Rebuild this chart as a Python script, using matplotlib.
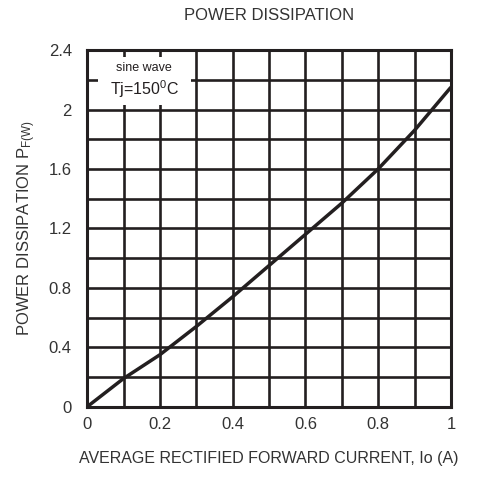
import matplotlib.pyplot as plt
import numpy as np

plt.rcParams['font.family'] = ['Liberation Sans', 'DejaVu Sans']

current = [0, 0.1, 0.2, 0.3, 0.4, 0.5, 0.6, 0.7, 0.8, 0.9, 1.0]
power = [0, 0.19, 0.35, 0.54, 0.74, 0.95, 1.16, 1.37, 1.6, 1.86, 2.15]

xticks = [0, 0.2, 0.4, 0.6, 0.8, 1]
xticklabels = ['0', '0.2', '0.4', '0.6', '0.8', '1']
yticks = [0, 0.4, 0.8, 1.2, 1.6, 2, 2.4]
yticklabels = ['0', '0.4', '0.8', '1.2', '1.6', '2', '2.4']

ink = '#231f20'
txt = '#333333'

fig = plt.figure(figsize=(4.95, 4.86), dpi=100)
ax = fig.add_axes([0.176, 0.163, 0.735, 0.734])

ax.set_xlim(0, 1)
ax.set_ylim(0, 2.4)

# grid every 0.1 / 0.2
for gx in np.arange(0.1, 1.0, 0.1):
    ax.axvline(gx, color=ink, lw=1.9, zorder=1)
for gy in np.arange(0.2, 2.4, 0.2):
    ax.axhline(gy, color=ink, lw=1.9, zorder=1)

# white patch behind the note
ax.add_patch(plt.Rectangle((0.03, 2.03), 0.255, 0.32, facecolor='white',
                           edgecolor='none', zorder=2))
ax.text(0.157, 2.28, 'sine wave', ha='center', va='center', fontsize=9,
        color=ink, zorder=3)
ax.text(0.157, 2.14, r'Tj=150$^\mathregular{0}$C', ha='center', va='center',
        fontsize=11.5, color=ink, zorder=3)

ax.plot(current, power, color=ink, lw=2.5, zorder=4, solid_capstyle='butt')

for s in ax.spines.values():
    s.set_linewidth(2.2)
    s.set_color(ink)
    s.set_zorder(5)

ax.set_xticks(xticks)
ax.set_xticklabels(xticklabels)
ax.set_yticks(yticks)
ax.set_yticklabels(yticklabels)
ax.tick_params(length=0, labelsize=12, colors=txt)
ax.tick_params(axis='x', pad=7)
ax.tick_params(axis='y', pad=11)

ax.set_title('POWER DISSIPATION', fontsize=12, color=txt, pad=22)
ax.set_xlabel('AVERAGE RECTIFIED FORWARD CURRENT, Io (A)', fontsize=11.5,
              color=txt, labelpad=14)
ax.set_ylabel(r'POWER DISSIPATION $\mathregular{P_{F(W)}}$', fontsize=12,
              color=txt, labelpad=8)

fig.savefig('out.png', dpi=100)
